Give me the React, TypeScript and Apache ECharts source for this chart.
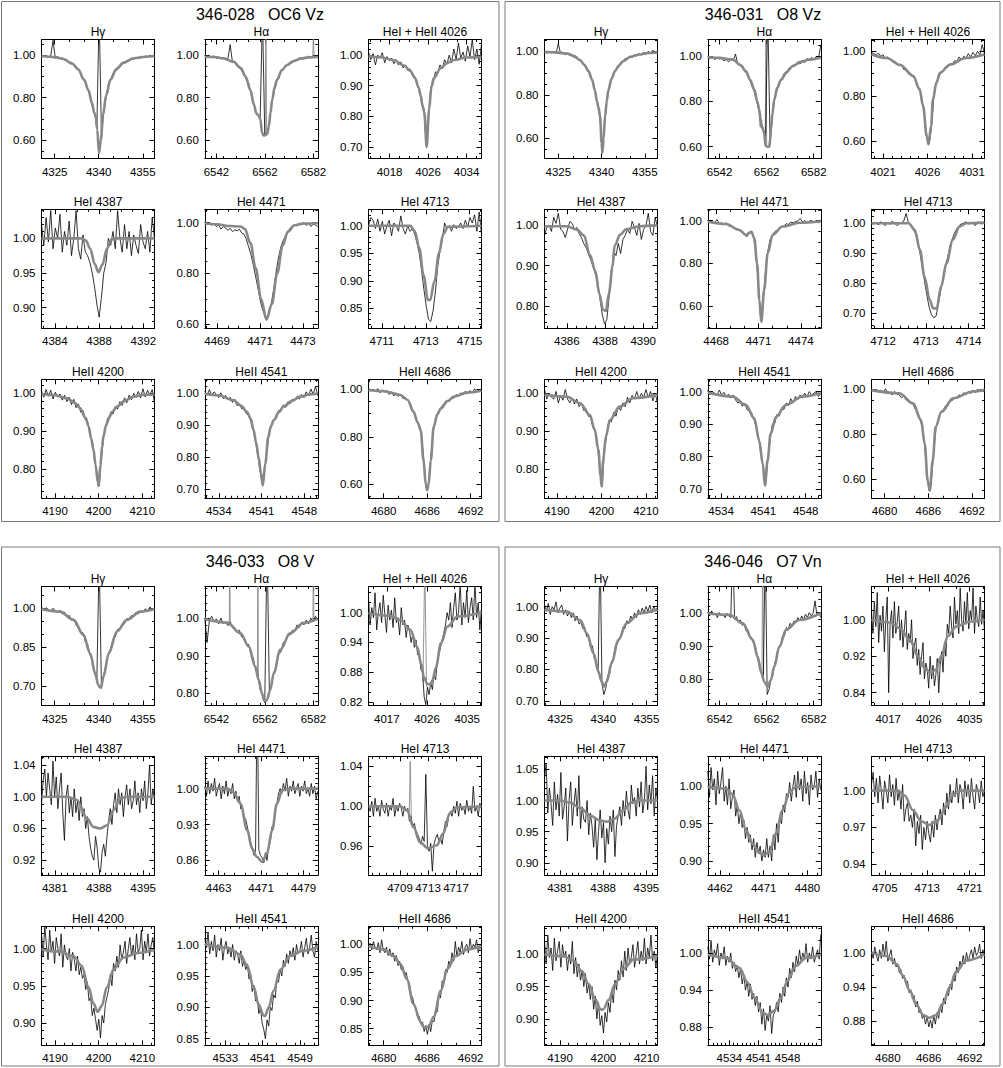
import React, { useEffect, useRef } from "react";
import * as echarts from "echarts";

const FONT = '"Liberation Sans", Arial, Helvetica, sans-serif';

// ================= Panel 1 : 346-028  OC6 Vz =================
const P1_HG_MODEL = [[4320.5,.996],[4325,.991],[4328,.982],[4331,.96],[4333,.934],[4335,.885],[4336.5,.835],[4337.7,.775],[4338.5,.728],[4339,.715],[4339.5,.65],[4340.1,.54],[4340.7,.6],[4341.5,.72],[4342.5,.81],[4344,.885],[4346,.935],[4348.5,.965],[4352,.986],[4356,.993],[4359,.996]];
const P1_HG_OBS = [1.0,.994,.998,.99,.996,1.07,.986,.993,.984,.988,.976,.98,.965,.968,.951,.948,.928,.918,.89,.873,.842,.812,.76,.728,.655,1.2,.62,.735,.805,.862,.886,.915,.921,.944,.947,.963,.962,.976,.973,.985,.981,.99,.986,.995,.989,.997,.992,1.0,.993,.998];
const P1_HA_MODEL = [[6537.2,.993],[6541,.992],[6545,.985],[6549,.969],[6552,.94],[6554,.9],[6556,.836],[6557.5,.765],[6558.5,.725],[6559.3,.718],[6560.1,.7],[6560.8,.635],[6561.5,.622],[6562.3,.625],[6563,.63],[6563.6,.665],[6564.3,.73],[6565,.79],[6566,.85],[6567,.885],[6569,.93],[6571,.953],[6574,.973],[6577,.985],[6580,.99],[6583.8,.992]];
const P1_HA_OBS = [.996,.988,.994,.99,.997,.985,.992,.983,.989,.978,.982,1.05,.966,.972,.952,.949,.925,.918,.886,.87,.822,.785,.735,.722,.698,1.2,.628,.632,.672,.78,.822,.876,.89,.925,.93,.952,.952,.968,.965,.978,.974,.986,.981,.99,.985,.995,.987,.996,.99,.995];
const P1_HA_AUX = [[[6562.1,.625],[6562.4,1.2],[6562.7,.628]],[[6581.7,.99],[6582,1.1],[6582.3,.99]]];
const P1_HE4026_MODEL = [[4013.6,.997],[4016,.993],[4018.8,.984],[4021,.966],[4022.3,.948],[4023.3,.925],[4024,.895],[4024.5,.866],[4024.8,.835],[4025.2,.815],[4025.7,.7],[4026.2,.823],[4026.7,.898],[4027.2,.925],[4028.6,.957],[4030,.975],[4031.4,.984],[4034,.992],[4037.1,.995]];
const P1_HE4026_OBS = [1.01,.985,1.005,.968,1.0,.99,1.008,.975,.995,.982,.99,.972,.985,.968,.978,.958,.968,.95,.955,.935,.93,.905,.89,.85,.825,.705,.79,.895,.908,.945,.94,.968,.955,.985,.97,1.0,.975,1.02,.985,1.04,.99,1.01,.98,1.03,.995,1.05,.985,1.02,.97,1.035];
const P1_HE4387_MODEL = [[4382.8,1],[4386.4,1],[4386.8,.997],[4387.2,.985],[4387.6,.963],[4387.95,.951],[4388.3,.962],[4388.7,.985],[4389.1,.998],[4389.5,1],[4393,1]];
const P1_HE4387_OBS = [1.02,.99,1.03,.995,1.04,.985,1.015,1.0,1.035,.98,1.01,.99,1.025,.975,1.0,1.04,.985,.97,1.005,.98,.975,.965,.95,.93,.905,.886,.915,.95,.965,1.0,.99,1.01,.985,1.04,1.0,.98,1.02,.985,1.01,.975,1.005,.99,.978,1.02,.995,.985,1.01,.98,1.03,1.0];
const P1_HE4471_MODEL = [[4468.43,.998],[4469,.994],[4469.6,.987],[4470.1,.985],[4470.3,.975],[4470.55,.92],[4470.8,.82],[4471.05,.7],[4471.3,.618],[4471.55,.68],[4471.8,.8],[4472.05,.91],[4472.3,.965],[4472.6,.99],[4473,.997],[4473.69,.998]];
const P1_HE4471_OBS = [1.0,.995,.999,.99,.997,.985,.992,.975,.985,.98,.97,.978,.965,.972,.968,.975,.96,.955,.935,.905,.875,.835,.79,.745,.695,.66,.635,.625,.645,.69,.745,.81,.865,.905,.93,.948,.962,.98,.985,.993,.99,.998,.992,1.0,.99,.997,.985,.995,.99,.985];
const P1_HE4713_MODEL = [[4710.39,1],[4712.3,1],[4712.5,.99],[4712.7,.96],[4712.9,.91],[4713.1,.865],[4713.2,.865],[4713.4,.9],[4713.6,.95],[4713.8,.985],[4714,.998],[4715.54,1]];
const P1_HE4713_OBS = [1.0,1.015,1.01,.995,1.012,.99,1.008,.985,1.0,1.01,.982,1.005,1.0,.99,1.018,.995,.985,1.0,.99,.995,.985,.97,.95,.92,.885,.855,.83,.826,.845,.88,.925,.955,.975,1.005,.995,1.0,.99,1.002,.995,.998,1.005,.995,1.01,.998,1.015,1.005,1.02,.99,1.025,.985];
const P1_HE4200_MODEL = [[4186.9,.998],[4190,.995],[4192.7,.987],[4194.5,.975],[4195.7,.961],[4197,.935],[4197.7,.913],[4198.3,.88],[4198.8,.852],[4199.3,.81],[4199.8,.765],[4200,.755],[4200.4,.81],[4200.8,.86],[4201.1,.887],[4201.7,.915],[4202.3,.935],[4203.2,.952],[4204.2,.965],[4206,.98],[4208,.991],[4210.5,.996],[4212.8,.997]];
const P1_HE4200_OBS = [1.005,.99,1.01,.992,1.008,.985,1.003,.99,.998,.982,.995,.978,.99,.97,.984,.962,.972,.95,.955,.93,.925,.89,.872,.825,.79,.755,.83,.885,.918,.925,.95,.945,.965,.958,.978,.968,.988,.975,.995,.983,1.0,.99,1.005,.988,1.012,.99,1.008,.995,1.01,.975];
const P1_HE4541_MODEL = [[4531.7,.997],[4534,.992],[4536.4,.977],[4537.6,.96],[4538.6,.941],[4539.2,.92],[4539.7,.884],[4540.1,.845],[4540.5,.8],[4540.9,.75],[4541.2,.712],[4541.6,.78],[4542.1,.863],[4542.5,.895],[4543,.915],[4543.8,.94],[4544.6,.957],[4546,.975],[4547.3,.988],[4549,.995],[4550.2,.998]];
const P1_HE4541_OBS = [1.005,.992,1.01,.99,1.003,.996,.985,1.0,.982,.992,.978,.986,.97,.98,.96,.966,.95,.955,.935,.93,.91,.885,.85,.805,.755,.712,.765,.825,.876,.9,.918,.92,.945,.942,.962,.955,.972,.966,.98,.978,.988,.98,.995,.985,1.003,.99,1.012,.995,1.02,.99];
const P1_HE4686_MODEL = [[4677.9,.997],[4680,.992],[4682.3,.976],[4683.3,.955],[4684.1,.906],[4684.7,.86],[4685.1,.828],[4685.5,.7],[4685.8,.6],[4686,.575],[4686.2,.6],[4686.5,.7],[4686.9,.842],[4687.4,.895],[4687.9,.92],[4688.8,.95],[4689.7,.969],[4691.5,.986],[4693.5,.994]];
const P1_HE4686_OBS = [1.005,.992,1.0,.99,1.003,.985,.998,.988,.995,.978,.99,.972,.985,.97,.98,.96,.965,.952,.942,.918,.895,.865,.848,.81,.7,.585,.6,.71,.82,.862,.9,.912,.932,.935,.952,.948,.965,.962,.978,.97,.985,.976,.992,.982,.995,.985,1.002,.988,1.0,.99];

// ================= Panel 2 : 346-031  O8 Vz =================
const P2_HG_MODEL = [[4320.2,.998],[4324,.995],[4327.9,.99],[4330.5,.978],[4332.5,.96],[4334,.938],[4335.4,.91],[4336.7,.87],[4337.7,.82],[4338.4,.77],[4338.9,.745],[4339.5,.7],[4340,.58],[4340.3,.535],[4340.7,.6],[4341.2,.7],[4341.8,.77],[4342.3,.82],[4343.5,.875],[4344.7,.91],[4346,.935],[4347.5,.955],[4350,.975],[4353.3,.985],[4356,.992],[4359.4,.995]];
const P2_HG_OBS = [1.003,.99,1.0,.993,.998,.99,1.035,.988,.995,.985,.99,.98,.984,.97,.975,.958,.955,.94,.928,.905,.89,.855,.812,.755,.7,.535,.665,.775,.825,.872,.89,.92,.925,.948,.95,.968,.962,.978,.97,.985,.978,.99,.982,.996,.985,1.0,.99,1.005,.99,1.0];
const P2_HA_MODEL = [[6537,.997],[6542,.993],[6547.6,.985],[6551,.96],[6553.2,.933],[6555,.895],[6556.8,.852],[6558,.8],[6558.9,.763],[6559.6,.7],[6560.3,.68],[6561,.66],[6561.5,.605],[6562.3,.6],[6563.1,.6],[6563.5,.63],[6563.8,.674],[6564.5,.75],[6565.2,.807],[6566.5,.86],[6568.1,.896],[6570.5,.93],[6573,.956],[6576.5,.975],[6580,.985],[6585,.993]];
const P2_HA_OBS = [.995,.99,.998,.985,.993,.988,.99,.98,.985,.975,.99,.98,1.01,.965,.962,.948,.935,.92,.9,.872,.848,.808,.77,.7,.685,.61,1.2,.62,.735,.81,.85,.885,.895,.922,.922,.945,.945,.962,.958,.975,.965,.982,.972,.99,.98,.995,.985,.998,.99,1.05];
const P2_HA_AUX = [[[6561.4,.605],[6561.7,1.2],[6562,.6]],[[6559,.74],[6559.2,.69],[6559.4,.73],[6559.6,.685],[6559.9,.72],[6560.1,.69]]];
const P2_HE4026_MODEL = [[4019.7,.987],[4021.4,.97],[4022.9,.94],[4024.4,.89],[4025.1,.83],[4025.5,.756],[4025.9,.622],[4026.1,.585],[4026.4,.667],[4026.6,.785],[4027,.86],[4027.4,.904],[4028.5,.94],[4030.3,.97],[4032.4,.986]];
const P2_HE4026_OBS = [.995,.99,.985,.992,.978,.985,.968,.975,.965,.958,.955,.948,.935,.94,.918,.92,.9,.902,.885,.875,.845,.832,.775,.705,.625,.585,.66,.79,.86,.878,.905,.912,.93,.928,.945,.942,.958,.955,.975,.962,.978,.97,.99,.975,.995,.98,1.0,.985,1.03,.99];
const P2_HE4387_MODEL = [[4384.83,.998],[4386,.998],[4386.5,.99],[4386.9,.975],[4387.2,.927],[4387.5,.886],[4387.7,.83],[4387.9,.79],[4388.05,.787],[4388.2,.83],[4388.4,.898],[4388.5,.95],[4388.8,.977],[4389.1,.99],[4389.8,.998],[4390.75,1]];
const P2_HE4387_OBS = [.975,.995,1.0,.985,1.02,1.005,1.03,.99,.985,.97,.99,1.01,1.005,.99,.995,.98,.97,.955,.945,.93,.915,.9,.88,.86,.82,.78,.755,.765,.82,.88,.935,.925,.955,.93,.965,.975,.99,.98,1.01,.995,.975,1.005,.965,.99,1.0,1.03,.985,.975,1.02,.995];
const P2_HE4471_MODEL = [[4467.41,.995],[4468.7,.984],[4469.65,.956],[4470.1,.933],[4470.5,.948],[4470.7,.917],[4470.9,.8],[4471.06,.628],[4471.2,.525],[4471.4,.675],[4471.65,.847],[4472,.933],[4472.7,.972],[4473.9,.99],[4475.41,.997]];
const P2_HE4471_OBS = [1.0,.992,.998,.99,1.005,.985,.99,.982,.99,.975,.972,.97,.96,.962,.95,.948,.932,.925,.94,.945,.915,.83,.69,.53,.62,.76,.855,.91,.93,.948,.955,.96,.972,.975,.985,.982,.992,.99,.995,.998,1.01,.995,1.0,.992,.998,1.0,.994,.998,.99,.997];
const P2_HE4713_MODEL = [[4711.73,.998],[4712.6,.998],[4712.74,.976],[4712.86,.91],[4712.97,.82],[4713.09,.744],[4713.17,.716],[4713.25,.716],[4713.36,.79],[4713.48,.865],[4713.63,.943],[4713.79,.987],[4713.94,.998],[4714.37,1]];
const P2_HE4713_OBS = [1.0,.995,1.0,.992,1.003,.996,.99,1.0,.994,1.005,.998,.99,.996,1.0,1.005,1.03,1.0,.99,.98,.965,.94,.9,.855,.805,.76,.72,.695,.685,.69,.73,.775,.812,.85,.885,.92,.945,.965,.98,.99,.996,.998,1.003,.995,1.0,.998,.99,1.002,1.0,.995,1.0];
const P2_HE4200_MODEL = [[4187.2,.997],[4192.2,.991],[4195.2,.974],[4197.4,.943],[4198.5,.904],[4199.3,.852],[4199.8,.783],[4200.05,.755],[4200.4,.826],[4201,.887],[4201.9,.93],[4204.1,.965],[4207.1,.987],[4212.6,.997]];
const P2_HE4200_OBS = [1.01,.985,1.0,.99,.985,1.005,.975,.995,.982,1.01,.985,.975,.988,.972,.985,.965,.975,.955,.96,.94,.938,.91,.905,.86,.805,.755,.85,.89,.93,.925,.95,.94,.965,.955,.975,.965,.99,.975,.995,.985,1.005,.985,1.0,.99,1.01,.988,1.005,.98,1.0,.975];
const P2_HE4541_MODEL = [[4531.8,.997],[4535.9,.985],[4538.1,.959],[4539.5,.918],[4540.3,.85],[4540.9,.778],[4541.25,.711],[4541.7,.79],[4542.2,.871],[4543.1,.923],[4544.7,.959],[4547.5,.985],[4550.5,.996]];
const P2_HE4541_OBS = [1.005,.99,1.0,.995,.988,1.005,.99,.998,.985,.992,.98,.99,.975,.965,.97,.955,.965,.945,.94,.935,.915,.89,.86,.81,.765,.71,.785,.855,.9,.902,.93,.925,.95,.945,.965,.958,.978,.965,.985,.975,.99,.98,.995,.985,1.0,.99,.995,1.0,.985,.995];
const P2_HE4686_MODEL = [[4678.2,.996],[4682,.982],[4683.9,.937],[4685,.863],[4685.5,.758],[4685.9,.594],[4686.2,.55],[4686.6,.684],[4687,.833],[4687.8,.9],[4689.4,.96],[4692.1,.99],[4693.7,.997]];
const P2_HE4686_OBS = [1.0,.992,.998,.99,.995,.985,1.002,.988,.985,.975,.99,.978,.975,.962,.97,.952,.955,.94,.935,.91,.9,.87,.83,.755,.635,.55,.6,.725,.83,.868,.9,.905,.925,.925,.945,.95,.96,.965,.975,.97,.985,.975,.99,.98,.995,.985,1.0,.99,.995,.985];

// ================= Panel 3 : 346-033  O8 V =================
const P3_HG_MODEL = [[4320.5,.997],[4326.8,.987],[4331.4,.955],[4334.8,.897],[4337.1,.825],[4338.8,.748],[4339.9,.702],[4340.4,.694],[4340.8,.696],[4341.6,.735],[4343.4,.825],[4346.2,.91],[4349.6,.955],[4354.2,.987],[4359,.997]];
const P3_HG_OBS = [1.005,.99,1.002,.995,.985,1.0,.99,.985,.992,.978,.985,.968,.972,.955,.958,.935,.93,.908,.905,.87,.86,.82,.8,.748,.722,1.2,.69,.745,.78,.825,.845,.88,.89,.918,.92,.94,.94,.96,.958,.972,.968,.985,.978,.99,.985,.998,.99,1.005,.992,1.0];
const P3_HA_MODEL = [[6537.2,.998],[6546.4,.988],[6551.9,.96],[6555.3,.925],[6558,.872],[6559.4,.836],[6560.8,.8],[6561.7,.781],[6562.3,.779],[6562.8,.783],[6564.2,.81],[6565.6,.853],[6568.3,.916],[6572.4,.96],[6577.9,.987],[6583.8,.998]];
const P3_HA_OBS = [1.0,.935,.995,1.005,.99,.998,.985,1.0,.985,.99,.98,.99,.975,.97,.962,.968,.95,.948,.93,.93,.905,.895,.862,.85,.81,.8,.775,1.2,.805,.825,.858,.87,.905,.91,.935,.938,.958,.955,.968,.965,.982,.975,.99,.982,.995,.985,1.0,.99,1.005,.995];
const P3_HA_AUX = [[[6547.3,.983],[6547.5,1.2],[6547.7,.983]],[[6558.9,.85],[6559.1,1.2],[6559.3,.84]],[[6581.8,.996],[6582,1.2],[6582.2,.996]]];
const P3_HE4026_MODEL = [[4012.9,.999],[4017.8,.993],[4020,.985],[4022.3,.965],[4023.8,.931],[4024.7,.897],[4025.3,.87],[4026.1,.856],[4026.8,.856],[4027.2,.863],[4028,.89],[4029.1,.938],[4030.6,.972],[4032.8,.992],[4038.2,1]];
const P3_HE4026_OBS = [1.03,.975,1.01,.99,1.04,.965,1.0,1.02,.98,1.035,.995,.96,1.015,.985,1.005,.97,1.03,.98,.99,.955,1.01,.975,.985,.95,.975,.965,.94,.955,.93,.945,.915,.92,.885,.88,.83,.815,.85,.835,.86,.845,.875,.865,.9,.915,.93,.945,.96,.975,1.0,.985,1.02,.97,1.01,1.04,.985,1.0,1.06,.975,1.02,.99,1.045,.98,1.01,1.03,.985,1.06,.99,1.02,.965,1.01];
const P3_HE4026_AUX = [[[4025.1,.86],[4025.5,1.1],[4025.9,.85]]];
const P3_HE4387_MODEL = [[4378.9,1],[4382.9,1],[4384.5,.996],[4386.1,.973],[4387.1,.962],[4388.2,.96],[4389.3,.964],[4390.3,.983],[4391.4,.998],[4392.4,1],[4396.8,1]];
const P3_HE4387_OBS = [.99,1.02,1.035,1.0,1.03,1.01,.99,1.045,1.0,1.025,.985,1.01,1.03,.98,.945,1.0,1.015,.98,1.0,.975,1.01,.98,.995,.97,1.0,.975,.985,.96,.975,.95,.935,.925,.92,.95,.935,.91,.905,.93,.94,.925,.95,.97,.985,.965,.99,1.005,.98,1.01,.99,1.005,.975,1.0,1.015,.99,1.01,.985,.995,1.02,.99,1.005,.98,1.01,.995,1.02,.985,1.005,1.04,.99,1.01,.995];
const P3_HE4471_MODEL = [[4460.4,1],[4464.6,1],[4465.8,.993],[4467.1,.971],[4468.4,.919],[4469.3,.883],[4470.2,.867],[4471.2,.857],[4472.1,.873],[4473.1,.919],[4474,.971],[4475,.997],[4476.5,1],[4481.7,1]];
const P3_HE4471_OBS = [1.005,.985,1.015,.99,1.01,.995,1.02,.985,1.0,1.01,.98,1.005,.99,1.015,.985,1.0,.99,1.01,.98,.995,.975,.985,.96,.965,.945,.94,.925,.91,.895,.885,.87,.88,1.2,.88,.87,.865,.855,.875,.86,.89,.895,.925,.93,.96,.97,.99,1.0,.99,1.01,.995,1.02,.985,1.005,.995,1.015,.99,1.0,1.01,.985,1.005,.995,1.015,.99,1.0,.985,1.01,.99,1.005,.98,.995];
const P3_HE4713_MODEL = [[4704.5,1],[4708.99,1],[4709.99,.996],[4710.93,.979],[4711.86,.964],[4713.02,.958],[4714.26,.961],[4715.19,.973],[4716.11,.993],[4717.12,.999],[4720.64,1]];
const P3_HE4713_OBS = [1.0,.995,1.005,.99,1.008,.995,1.0,.99,1.006,.997,.993,1.003,.99,1.0,.996,1.008,.99,1.0,.995,1.003,.998,.99,1.0,.995,.998,.985,.99,.98,.983,.975,.972,.968,.962,.97,.965,1.032,.96,.955,.963,.935,.962,.968,.972,.965,.968,.962,.975,.985,.98,.99,.995,.99,1.0,.993,1.005,.99,1.003,.996,1.0,.992,1.006,.995,1.0,.993,1.02,.995,1.0,.99,1.003,.997];
const P3_HE4713_AUX = [[[4710.31,.99],[4710.46,1.045],[4710.62,.99]]];
const P3_HE4200_MODEL = [[4186.9,.999],[4191.1,.996],[4194.2,.99],[4196.1,.977],[4197.7,.948],[4198.8,.926],[4199.8,.915],[4200.7,.923],[4201.9,.948],[4203.4,.972],[4205.7,.988],[4208.8,.994],[4212.8,.998]];
const P3_HE4200_OBS = [1.02,.99,1.03,1.005,.985,1.025,.995,1.01,.98,1.015,1.0,.99,1.02,.975,1.005,.99,.985,1.0,.97,.995,.985,.97,.99,.965,.975,.96,.965,.945,.955,.93,.935,.91,.92,.905,.89,.905,.88,.91,.9,.925,.935,.945,.965,.95,.98,.97,.99,.975,1.005,.985,.995,1.01,.98,1.0,1.015,.99,1.005,.985,1.02,.995,1.0,1.025,.985,1.01,.995,1.02,.99,1.005,1.015,.99];
const P3_HE4541_MODEL = [[4528.6,1],[4533.4,.995],[4536.2,.984],[4537.6,.968],[4539.1,.932],[4540.1,.905],[4541.2,.887],[4541.5,.886],[4542.3,.9],[4543.3,.926],[4544.8,.96],[4546.9,.982],[4549.7,.99],[4552.8,.996]];
const P3_HE4541_OBS = [1.01,.995,1.02,.985,1.005,.99,1.015,.98,1.0,.99,1.01,.975,.995,1.005,.985,.995,.98,1.0,.975,.99,.985,.97,.99,.965,.975,.96,.968,.945,.952,.925,.935,.91,.915,.89,.9,.875,.865,.85,.88,.87,.9,.895,.92,.915,.945,.94,.96,.95,.975,.965,.985,.97,.99,.98,.995,.975,1.0,.985,.99,1.005,.98,.995,1.01,.985,.995,1.015,.99,.98,1.005,.99];
const P3_HE4686_MODEL = [[4677.9,.997],[4680,.991],[4681.4,.979],[4682.3,.965],[4683.2,.938],[4684.1,.894],[4685.1,.862],[4685.5,.853],[4686.2,.854],[4686.9,.871],[4687.9,.918],[4688.8,.956],[4689.9,.979],[4691.6,.991],[4693.5,.997]];
const P3_HE4686_OBS = [.995,1.002,.99,1.005,.995,.99,1.003,.985,1.008,.99,.985,.995,.98,.992,.978,.985,.97,.98,.962,.97,.955,.96,.945,.95,.935,.93,.91,.905,.89,.885,.87,.872,.858,.862,.845,.855,.84,.858,.845,.865,.862,.885,.88,.91,.905,.935,.932,.955,.95,.97,.962,.985,.97,1.005,.978,.995,.985,1.005,.982,.995,1.0,.985,1.01,.99,1.0,.995,1.008,.985,.998,.99];

// ================= Panel 4 : 346-046  O7 Vn =================
const P4_HG_MODEL = [[4319.6,.99],[4327.3,.984],[4332,.957],[4334.3,.915],[4336.6,.851],[4338.3,.793],[4339.4,.761],[4340.2,.745],[4341.2,.761],[4342.9,.82],[4345.2,.894],[4348.1,.947],[4352.7,.979],[4358.8,.99]];
const P4_HG_OBS = [1.005,.985,1.01,.975,1.0,.99,1.015,.98,.995,1.005,.975,.99,.97,.985,.965,.98,.955,.97,.945,.95,.93,.935,.905,.905,.87,.875,.835,.825,.79,1.2,.755,.72,.74,.78,.785,.825,.835,.875,.88,.9,.905,.935,.93,.955,.945,.97,.96,.98,.965,.99,.975,.995,.98,1.0,.985,1.005,.98,1.0,.99,.995];
const P4_HA_MODEL = [[6537,.998],[6546.2,.993],[6551.8,.968],[6556.1,.918],[6558.2,.868],[6559.6,.823],[6561,.793],[6562.4,.778],[6563.8,.798],[6565.2,.838],[6567.4,.898],[6570.2,.948],[6575.8,.978],[6585,.998]];
const P4_HA_OBS = [1.0,.99,1.005,.992,.998,.985,1.0,.99,.995,.985,.998,.99,.985,1.2,.98,.988,.972,.978,.962,.965,.945,.948,.925,.925,.905,.895,.86,.85,.815,.805,1.2,.755,.77,.8,.815,.85,.865,.895,.9,.93,.93,.955,.95,.968,.96,.975,.97,.985,.975,.99,.978,.995,.985,1.0,.99,.998,1.035,.99,1.0,.985];
const P4_HA_AUX = [[[6560,.81],[6560.3,1.2],[6560.7,.8]]];
const P4_HE4026_MODEL = [[4013.3,1],[4017.3,.994],[4019.5,.982],[4021.8,.956],[4023.6,.92],[4025.1,.894],[4026.3,.883],[4027.6,.891],[4028.7,.92],[4030.2,.964],[4032,.985],[4035,.996],[4038.3,1]];
const P4_HE4026_OBS = [1.02,.97,1.04,.985,1.06,.95,1.01,.975,1.03,.93,1.0,1.05,.84,.99,1.02,.96,1.04,.97,.995,1.03,.955,1.0,.94,.98,1.02,.935,.97,.95,1.0,.915,.945,.96,.9,.935,.88,.92,.95,.87,.905,.89,.85,.92,.87,.9,.855,.88,.915,.84,.9,.93,.885,.95,.92,.99,.97,1.03,.985,.96,1.05,.99,1.02,.97,1.07,1.0,.975,1.04,.99,1.06,.98,1.02,1.0,1.07,.97,1.03,1.0,.985,1.05,.99,1.02,.975];
const P4_HE4387_MODEL = [[4378.5,1],[4381,1],[4382.6,.997],[4384.3,.988],[4385.9,.976],[4387.5,.968],[4388.6,.966],[4389.9,.971],[4391.2,.984],[4392.6,.997],[4394,1],[4396.8,1]];
const P4_HE4387_OBS = [1.035,1.06,.98,1.02,.995,.96,1.03,.985,1.01,.975,1.045,.97,.99,1.02,.935,1.0,1.03,.96,.995,1.02,.975,1.04,.955,.99,.97,.965,1.0,.945,.98,.96,.925,.97,.905,.95,.985,.94,.965,.9,.955,.93,.975,.95,.985,.91,.96,.975,.99,.96,1.0,.975,1.015,.985,.97,1.025,.995,1.005,.975,1.02,.99,1.03,.98,1.0,1.055,.985,1.025,.995,1.04,.975,1.02,1.0];
const P4_HE4471_MODEL = [[4459.5,.999],[4463.3,.997],[4464.6,.989],[4466,.968],[4467.4,.941],[4468.7,.923],[4470.1,.911],[4471.1,.908],[4472.2,.912],[4473.5,.937],[4474.9,.968],[4476.3,.992],[4477.6,.999],[4482.75,1]];
const P4_HE4471_OBS = [1.02,.985,1.025,.995,1.01,.975,1.02,.99,1.005,1.025,.98,1.0,.975,1.01,.97,.985,.995,.96,.975,.95,.965,.945,.955,.93,.945,.925,.935,.915,.93,.905,.925,.91,.92,.9,.915,.905,.93,.905,.92,.9,.935,.915,.95,.925,.96,.95,.975,.965,.99,.985,1.005,.98,1.0,1.015,.985,1.02,.995,1.01,.98,1.02,.99,1.005,.975,1.015,.995,1.0,1.02,.985,1.01,.995];
const P4_HE4713_MODEL = [[4702.5,1],[4707.5,1],[4708.75,.996],[4710.3,.984],[4711.9,.975],[4713.4,.972],[4715,.976],[4716.6,.987],[4717.8,.996],[4719,1],[4723.8,1]];
const P4_HE4713_OBS = [1.005,1.015,.995,1.01,.99,1.012,1.0,.985,1.008,1.0,.99,1.013,.995,1.005,.988,1.01,.992,1.0,.985,1.005,.975,.985,.99,.975,.98,.97,.985,.955,.975,.965,.98,.952,.97,.96,.975,.965,.958,.975,.962,.98,.968,.978,.985,.972,.99,.98,.998,.985,1.005,.99,1.0,.995,1.01,.99,1.005,1.0,.985,1.008,.995,1.005,.99,1.01,.995,.985,1.005,1.0,.99,1.008,.995,1.0];
const P4_HE4200_MODEL = [[4186.4,1],[4190.8,.997],[4193.1,.99],[4195,.974],[4196.6,.954],[4198.1,.931],[4199.2,.916],[4199.6,.914],[4200,.915],[4201.2,.929],[4202.7,.954],[4204.6,.977],[4207,.992],[4212.5,.998]];
const P4_HE4200_OBS = [1.02,.985,1.03,.995,1.01,.975,1.025,.99,1.005,1.02,.98,1.015,.995,1.005,.975,1.0,.985,1.02,.97,.995,.965,.985,.96,.975,.95,.97,.94,.955,.93,.95,.915,.935,.9,.925,.89,.905,.878,.91,.895,.925,.91,.945,.925,.96,.945,.975,.96,.99,.965,1.005,.975,1.01,.985,.995,1.015,.98,1.0,1.02,.985,1.005,.99,1.025,.985,1.01,.995,1.03,.99,1.005,.98,1.0];
const P4_HE4541_MODEL = [[4528.8,.997],[4533.2,.992],[4536.4,.976],[4538.4,.952],[4540,.928],[4542,.904],[4543.2,.9],[4544.8,.907],[4546.4,.928],[4548,.955],[4550,.979],[4552.4,.992],[4556,.997]];
const P4_HE4541_OBS = [1.01,.99,1.02,.985,1.005,.995,1.015,.98,1.0,.99,1.01,.98,.995,.985,1.0,.975,.985,.97,.98,.96,.975,.95,.965,.94,.955,.93,.95,.925,.935,.915,.93,.905,.92,.885,.91,.875,.9,.89,.915,.87,.9,.905,.92,.905,.935,.92,.945,.93,.96,.945,.975,.96,.985,.97,.995,.98,1.005,.985,1.0,.99,1.015,.985,1.0,.99,1.01,.985,.995,1.005,.99,1.03];
const P4_HE4686_MODEL = [[4677.6,1],[4679.8,.994],[4681.3,.98],[4682.2,.96],[4683.2,.934],[4684.2,.909],[4685.2,.891],[4686.1,.886],[4687.1,.891],[4688.1,.911],[4689.1,.94],[4690,.966],[4691.5,.986],[4694.2,.997]];
const P4_HE4686_OBS = [1.003,.99,1.01,.995,.985,1.005,.99,1.015,.995,1.02,.985,.995,1.005,.98,.99,.975,.98,.965,.97,.955,.96,.945,.95,.93,.935,.92,.925,.905,.915,.895,.9,.885,.89,.875,.888,.87,.882,.868,.89,.875,.895,.885,.905,.895,.92,.91,.93,.925,.945,.935,.96,.95,.975,.965,.985,.975,.995,.98,1.0,.985,.995,1.005,.99,1.01,.995,1.0,1.015,.99,1.005,.995];

// ---------------- subplot tables ----------------
const T_HG = "H\u03b3", T_HA = "H\u03b1", T_4026 = "HeI + HeII 4026";
const T_4387 = "HeI 4387", T_4471 = "HeI 4471", T_4713 = "HeI 4713";
const T_4200 = "HeII 4200", T_4541 = "HeII 4541", T_4686 = "HeII 4686";

const PANELS = [
  { name: "346-028   OC6 Vz", subs: [
    { title: T_HG, xr: [4320.5, 4359], yr: [0.514, 1.074], xt: [4325, 4340, 4355], yt: [0.6, 0.8, 1.0], model: P1_HG_MODEL, obs: P1_HG_OBS },
    { title: T_HA, xr: [6537.2, 6583.8], yr: [0.514, 1.074], xt: [6542, 6562, 6582], yt: [0.6, 0.8, 1.0], model: P1_HA_MODEL, obs: P1_HA_OBS, aux: P1_HA_AUX },
    { title: T_4026, xr: [4013.6, 4037.1], yr: [0.662, 1.051], xt: [4018, 4026, 4034], yt: [0.7, 0.8, 0.9, 1.0], model: P1_HE4026_MODEL, obs: P1_HE4026_OBS },
    { title: T_4387, xr: [4382.8, 4393.0], yr: [0.87, 1.042], xt: [4384, 4388, 4392], yt: [0.9, 0.95, 1.0], model: P1_HE4387_MODEL, obs: P1_HE4387_OBS },
    { title: T_4471, xr: [4468.43, 4473.69], yr: [0.584, 1.053], xt: [4469, 4471, 4473], yt: [0.6, 0.8, 1.0], model: P1_HE4471_MODEL, obs: P1_HE4471_OBS },
    { title: T_4713, xr: [4710.39, 4715.54], yr: [0.8135, 1.03], xt: [4711, 4713, 4715], yt: [0.85, 0.9, 0.95, 1.0], model: P1_HE4713_MODEL, obs: P1_HE4713_OBS },
    { title: T_4200, xr: [4186.9, 4212.8], yr: [0.7225, 1.037], xt: [4190, 4200, 4210], yt: [0.8, 0.9, 1.0], model: P1_HE4200_MODEL, obs: P1_HE4200_OBS },
    { title: T_4541, xr: [4531.7, 4550.2], yr: [0.672, 1.042], xt: [4534, 4541, 4548], yt: [0.7, 0.8, 0.9, 1.0], model: P1_HE4541_MODEL, obs: P1_HE4541_OBS },
    { title: T_4686, xr: [4677.9, 4693.5], yr: [0.541, 1.042], xt: [4680, 4686, 4692], yt: [0.6, 0.8, 1.0], model: P1_HE4686_MODEL, obs: P1_HE4686_OBS },
  ]},
  { name: "346-031   O8 Vz", subs: [
    { title: T_HG, xr: [4320.2, 4359.4], yr: [0.508, 1.054], xt: [4325, 4340, 4355], yt: [0.6, 0.8, 1.0], model: P2_HG_MODEL, obs: P2_HG_OBS },
    { title: T_HA, xr: [6537, 6585], yr: [0.548, 1.074], xt: [6542, 6562, 6582], yt: [0.6, 0.8, 1.0], model: P2_HA_MODEL, obs: P2_HA_OBS, aux: P2_HA_AUX },
    { title: T_4026, xr: [4019.7, 4032.4], yr: [0.521, 1.053], xt: [4021, 4026, 4031], yt: [0.6, 0.8, 1.0], model: P2_HE4026_MODEL, obs: P2_HE4026_OBS },
    { title: T_4387, xr: [4384.83, 4390.75], yr: [0.744, 1.04], xt: [4386, 4388, 4390], yt: [0.8, 0.9, 1.0], model: P2_HE4387_MODEL, obs: P2_HE4387_OBS },
    { title: T_4471, xr: [4467.41, 4475.41], yr: [0.495, 1.053], xt: [4468, 4471, 4474], yt: [0.6, 0.8, 1.0], model: P2_HE4471_MODEL, obs: P2_HE4471_OBS },
    { title: T_4713, xr: [4711.73, 4714.37], yr: [0.65, 1.044], xt: [4712, 4713, 4714], yt: [0.7, 0.8, 0.9, 1.0], model: P2_HE4713_MODEL, obs: P2_HE4713_OBS },
    { title: T_4200, xr: [4187.2, 4212.6], yr: [0.724, 1.037], xt: [4190, 4200, 4210], yt: [0.8, 0.9, 1.0], model: P2_HE4200_MODEL, obs: P2_HE4200_OBS },
    { title: T_4541, xr: [4531.8, 4550.5], yr: [0.672, 1.038], xt: [4534, 4541, 4548], yt: [0.7, 0.8, 0.9, 1.0], model: P2_HE4541_MODEL, obs: P2_HE4541_OBS },
    { title: T_4686, xr: [4678.2, 4693.7], yr: [0.516, 1.044], xt: [4680, 4686, 4692], yt: [0.6, 0.8, 1.0], model: P2_HE4686_MODEL, obs: P2_HE4686_OBS },
  ]},
  { name: "346-033   O8 V", subs: [
    { title: T_HG, xr: [4320.5, 4359], yr: [0.624, 1.084], xt: [4325, 4340, 4355], yt: [0.7, 0.85, 1.0], model: P3_HG_MODEL, obs: P3_HG_OBS },
    { title: T_HA, xr: [6537.2, 6583.8], yr: [0.768, 1.084], xt: [6542, 6562, 6582], yt: [0.8, 0.9, 1.0], model: P3_HA_MODEL, obs: P3_HA_OBS, aux: P3_HA_AUX },
    { title: T_4026, xr: [4012.9, 4038.2], yr: [0.813, 1.0525], xt: [4017, 4026, 4035], yt: [0.82, 0.88, 0.94, 1.0], model: P3_HE4026_MODEL, obs: P3_HE4026_OBS, aux: P3_HE4026_AUX },
    { title: T_4387, xr: [4378.9, 4396.8], yr: [0.901, 1.051], xt: [4381, 4388, 4395], yt: [0.92, 0.96, 1.0, 1.04], model: P3_HE4387_MODEL, obs: P3_HE4387_OBS },
    { title: T_4471, xr: [4460.4, 4481.7], yr: [0.831, 1.063], xt: [4463, 4471, 4479], yt: [0.86, 0.93, 1.0], model: P3_HE4471_MODEL, obs: P3_HE4471_OBS },
    { title: T_4713, xr: [4704.5, 4720.64], yr: [0.931, 1.05], xt: [4709, 4713, 4717], yt: [0.96, 1.0, 1.04], model: P3_HE4713_MODEL, obs: P3_HE4713_OBS, aux: P3_HE4713_AUX },
    { title: T_4200, xr: [4186.9, 4212.8], yr: [0.87, 1.03], xt: [4190, 4200, 4210], yt: [0.9, 0.95, 1.0], model: P3_HE4200_MODEL, obs: P3_HE4200_OBS },
    { title: T_4541, xr: [4528.6, 4552.8], yr: [0.8395, 1.029], xt: [4533, 4541, 4549], yt: [0.85, 0.9, 0.95, 1.0], model: P3_HE4541_MODEL, obs: P3_HE4541_OBS },
    { title: T_4686, xr: [4677.9, 4693.5], yr: [0.8205, 1.032], xt: [4680, 4686, 4692], yt: [0.85, 0.9, 0.95, 1.0], model: P3_HE4686_MODEL, obs: P3_HE4686_OBS },
  ]},
  { name: "346-046   O7 Vn", subs: [
    { title: T_HG, xr: [4319.6, 4358.8], yr: [0.685, 1.064], xt: [4325, 4340, 4355], yt: [0.7, 0.8, 0.9, 1.0], model: P4_HG_MODEL, obs: P4_HG_OBS },
    { title: T_HA, xr: [6537, 6585], yr: [0.722, 1.078], xt: [6542, 6562, 6582], yt: [0.8, 0.9, 1.0], model: P4_HA_MODEL, obs: P4_HA_OBS, aux: P4_HA_AUX },
    { title: T_4026, xr: [4013.3, 4038.3], yr: [0.812, 1.073], xt: [4017, 4026, 4035], yt: [0.84, 0.92, 1.0], model: P4_HE4026_MODEL, obs: P4_HE4026_OBS },
    { title: T_4387, xr: [4378.5, 4396.8], yr: [0.88, 1.071], xt: [4381, 4388, 4395], yt: [0.9, 0.95, 1.0, 1.05], model: P4_HE4387_MODEL, obs: P4_HE4387_OBS },
    { title: T_4471, xr: [4459.5, 4482.75], yr: [0.881, 1.04], xt: [4462, 4471, 4480], yt: [0.9, 0.95, 1.0], model: P4_HE4471_MODEL, obs: P4_HE4471_OBS },
    { title: T_4713, xr: [4702.5, 4723.8], yr: [0.931, 1.028], xt: [4705, 4713, 4721], yt: [0.94, 0.97, 1.0], model: P4_HE4713_MODEL, obs: P4_HE4713_OBS },
    { title: T_4200, xr: [4186.4, 4212.5], yr: [0.859, 1.0435], xt: [4190, 4200, 4210], yt: [0.9, 0.95, 1.0], model: P4_HE4200_MODEL, obs: P4_HE4200_OBS },
    { title: T_4541, xr: [4528.8, 4556], yr: [0.851, 1.043], xt: [4534, 4541, 4548], yt: [0.88, 0.94, 1.0], model: P4_HE4541_MODEL, obs: P4_HE4541_OBS },
    { title: T_4686, xr: [4677.6, 4694.2], yr: [0.838, 1.046], xt: [4680, 4686, 4692], yt: [0.88, 0.94, 1.0], model: P4_HE4686_MODEL, obs: P4_HE4686_OBS },
  ]},
];

// ---------------- layout (pixels) ----------------
const PANEL_ORIGIN = [[0, 0], [503, 0], [0, 547], [503, 547]];
const PANEL_BOX = [[1.5, 1.5, 497.5, 520], [505, 1.5, 495, 520], [1.5, 547, 497.5, 519], [505, 547, 495, 519]];
const COL_LEFT = [41.5, 204.8, 368.5];
const ROW_TOP = [39.5, 209.3, 379.3];
const BOX_W = 113;
const BOX_H = 119;

const MINOR: Record<string, number> = {
  "15": 5, "20": 5, "8": 2, "2": 0.5, "10": 2, "7": 1, "6": 2, "4": 1, "5": 1, "1": 0.2, "3": 1, "9": 3,
  "0.2": 0.05, "0.1": 0.02, "0.05": 0.01, "0.15": 0.05, "0.06": 0.02, "0.04": 0.01, "0.07": 0.01, "0.08": 0.02, "0.03": 0.01,
};

function minorTicks(range: number[], major: number[]) {
  const d = +(major[1] - major[0]).toFixed(4);
  const step = MINOR[String(d)] || d / 2;
  const out: number[] = [];
  let v = Math.ceil(range[0] / step - 1e-6) * step;
  for (; v <= range[1] + 1e-9; v += step) out.push(+v.toFixed(6));
  return out;
}

function buildOption() {
  const grid: any[] = [], xAxis: any[] = [], yAxis: any[] = [], series: any[] = [], graphic: any[] = [];
  const labelStyle = { color: "#000", fontSize: 11.5, fontFamily: FONT, hideOverlap: false, showMinLabel: true, showMaxLabel: true };
  const tickLine = { color: "#000", width: 1 };

  PANELS.forEach((p, pi) => {
    const [ox, oy] = PANEL_ORIGIN[pi];
    const [bx, by, bw, bh] = PANEL_BOX[pi];
    graphic.push({ type: "rect", shape: { x: bx, y: by, width: bw, height: bh }, style: { fill: "none", stroke: "#7a7a7a", lineWidth: 1 }, silent: true });
    graphic.push({ type: "text", x: ox + 260, y: oy + 14, style: { text: p.name, fontSize: 16, fontFamily: FONT, fill: "#000", textAlign: "center", textVerticalAlign: "middle" }, silent: true });

    p.subs.forEach((s: any, si: number) => {
      const r = Math.floor(si / 3), c = si % 3;
      const left = ox + COL_LEFT[c], top = oy + ROW_TOP[r];
      const gi = grid.length;
      grid.push({ left, top, width: BOX_W, height: BOX_H, containLabel: false });
      graphic.push({ type: "text", x: left + BOX_W / 2, y: top - 7.5, style: { text: s.title, fontSize: 12, fontFamily: FONT, fill: "#000", textAlign: "center", textVerticalAlign: "middle" }, silent: true });

      const xMin = minorTicks(s.xr, s.xt), yMin = minorTicks(s.yr, s.yt);
      const xi = xAxis.length, yi = yAxis.length;
      const baseX = { gridIndex: gi, type: "value", min: s.xr[0], max: s.xr[1], splitLine: { show: false }, silent: true };
      const baseY = { gridIndex: gi, type: "value", min: s.yr[0], max: s.yr[1], splitLine: { show: false }, silent: true };
      xAxis.push({ ...baseX, position: "bottom", axisLine: { show: true, onZero: false, lineStyle: tickLine },
        axisTick: { show: true, inside: true, length: 5, customValues: s.xt, lineStyle: tickLine },
        axisLabel: { show: true, customValues: s.xt, margin: 7, formatter: (v: number) => String(Math.round(v)), ...labelStyle } });
      xAxis.push({ ...baseX, position: "top", axisLine: { show: true, onZero: false, lineStyle: tickLine },
        axisTick: { show: true, inside: true, length: 5, customValues: s.xt, lineStyle: tickLine }, axisLabel: { show: false } });
      xAxis.push({ ...baseX, position: "bottom", axisLine: { show: false, onZero: false },
        axisTick: { show: true, inside: true, length: 2.5, customValues: xMin, lineStyle: tickLine }, axisLabel: { show: false } });
      xAxis.push({ ...baseX, position: "top", axisLine: { show: false, onZero: false },
        axisTick: { show: true, inside: true, length: 2.5, customValues: xMin, lineStyle: tickLine }, axisLabel: { show: false } });

      yAxis.push({ ...baseY, position: "left", axisLine: { show: true, onZero: false, lineStyle: tickLine },
        axisTick: { show: true, inside: true, length: 5, customValues: s.yt, lineStyle: tickLine },
        axisLabel: { show: true, customValues: s.yt, margin: 6, formatter: (v: number) => v.toFixed(2), ...labelStyle } });
      yAxis.push({ ...baseY, position: "right", axisLine: { show: true, onZero: false, lineStyle: tickLine },
        axisTick: { show: true, inside: true, length: 5, customValues: s.yt, lineStyle: tickLine }, axisLabel: { show: false } });
      yAxis.push({ ...baseY, position: "left", axisLine: { show: false, onZero: false },
        axisTick: { show: true, inside: true, length: 2.5, customValues: yMin, lineStyle: tickLine }, axisLabel: { show: false } });
      yAxis.push({ ...baseY, position: "right", axisLine: { show: false, onZero: false },
        axisTick: { show: true, inside: true, length: 2.5, customValues: yMin, lineStyle: tickLine }, axisLabel: { show: false } });

      const n = s.obs.length;
      const step = (s.xr[1] - s.xr[0]) / (n - 1);
      const obsData = s.obs.map((v: number, k: number) => [s.xr[0] + k * step, v]);
      (s.aux || []).forEach((seg: number[][]) => {
        series.push({ type: "line", xAxisIndex: xi, yAxisIndex: yi, data: seg, showSymbol: false, symbol: "none", silent: true, z: 1,
          lineStyle: { color: "#8a8a8a", width: 0.9 }, clip: true });
      });
      series.push({ type: "line", xAxisIndex: xi, yAxisIndex: yi, data: obsData, showSymbol: false, symbol: "none", silent: true, z: 2,
        lineStyle: { color: "#000", width: 0.8 }, clip: true });
      series.push({ type: "line", xAxisIndex: xi, yAxisIndex: yi, data: s.model, showSymbol: false, symbol: "none", silent: true, z: 3,
        smooth: 0.35, smoothMonotone: "x", lineStyle: { color: "#888888", width: 2.6 }, clip: true });
    });
  });

  return { animation: false, backgroundColor: "#fff", grid, xAxis, yAxis, series, graphic, tooltip: { show: false } };
}

export default function App() {
  const ref = useRef<HTMLDivElement>(null);
  useEffect(() => {
    document.body.style.margin = "0";
    if (!ref.current) return;
    const chart = echarts.init(ref.current, null, { renderer: "svg" });
    chart.setOption(buildOption() as any);
    return () => chart.dispose();
  }, []);
  return <div ref={ref} style={{ width: 1003, height: 1068, background: "#fff" }} />;
}
